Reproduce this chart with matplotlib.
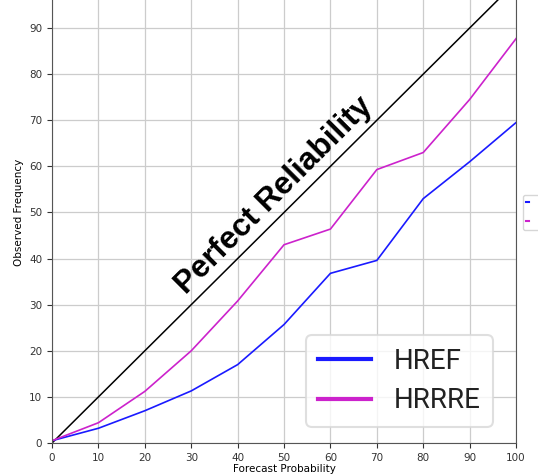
import matplotlib.pyplot as plt
import numpy as np

# forecast probability bins (%)
prob = [0, 10, 20, 30, 40, 50, 60, 70, 80, 90, 100]
# observed frequency per bin (%)
href = [0.5, 3.2, 7.0, 11.3, 17.0, 25.7, 36.8, 39.6, 53.0, 61.0, 69.5]
hrrre = [0.5, 4.4, 11.2, 20.0, 30.8, 43.0, 46.4, 59.3, 63.0, 74.5, 87.7]

fig = plt.figure(figsize=(5.38, 4.76), dpi=100)
ax = fig.add_axes([0.0967, 0.0693, 0.8625, 0.9687])

ax.plot([0, 100], [0, 100], color='k', lw=1.1)
l1, = ax.plot(prob, href, color='#1a1aff', lw=1.2, label='HREF')
l2, = ax.plot(prob, hrrre, color='#cc22cc', lw=1.2, label='HRRRE')

ax.text(47.8, 53.6, 'Perfect Reliability', rotation=45, ha='center', va='center',
        fontsize=22.7, fontweight='bold', family='Liberation Sans')

ax.set_xlim(0, 100)
ax.set_ylim(0, 100)
ax.set_xticks(np.arange(0, 101, 10))
ax.set_yticks(np.arange(0, 91, 10))
ax.tick_params(labelsize=7.5, colors='#333333')
ax.grid(True, color='#cccccc', lw=0.9)
ax.set_axisbelow(True)
for s in ax.spines.values():
    s.set_color('#555555')
ax.set_xlabel('Forecast Probability', fontsize=7.5, labelpad=1)
ax.set_ylabel('Observed Frequency', fontsize=7.5)

# small legend sitting off the right edge
small = ax.legend(handles=[l1, l2], loc='center left', bbox_to_anchor=(1.015, 0.5),
                  fontsize=8, handlelength=0.2, handletextpad=1.4, labelspacing=0.8,
                  borderpad=0.3, borderaxespad=0)
for h in small.get_lines():
    h.set_linewidth(1.5)
ax.add_artist(small)

leg = ax.legend(handles=[l1, l2], loc='lower right', bbox_to_anchor=(0.95, 0.035),
                handlelength=1.9, handletextpad=0.8,
                labelspacing=0.45, borderpad=0.45, borderaxespad=0,
                prop={'family': ['DejaVu Sans Condensed', 'Roboto'], 'size': 20})
leg.get_frame().set_edgecolor('#d8d8d8')
leg.get_frame().set_linewidth(1.5)
for h in leg.get_lines():
    h.set_linewidth(3)
for t in leg.get_texts():
    t.set_color('#222222')

fig.savefig('out.png', dpi=100)
